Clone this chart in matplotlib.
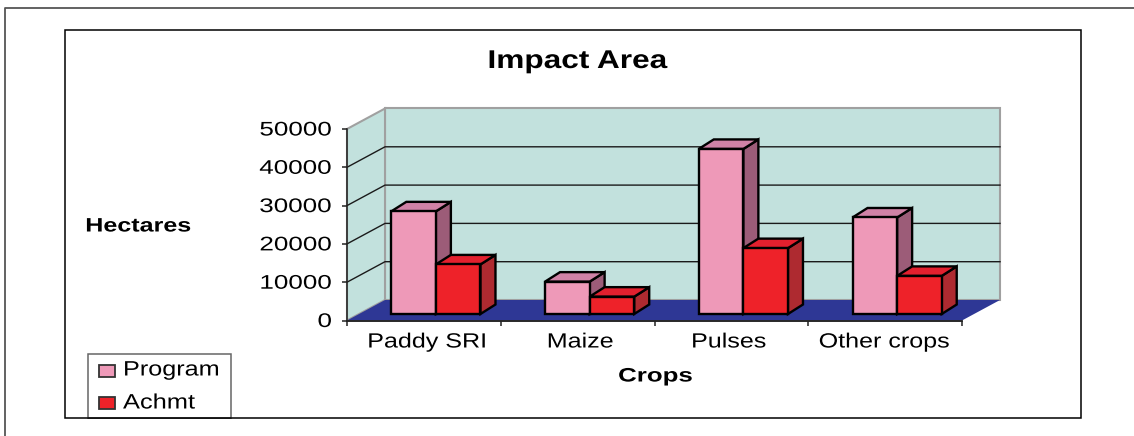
import matplotlib
matplotlib.use("Agg")
import matplotlib.pyplot as plt
from matplotlib.patches import Polygon, Rectangle
from matplotlib.patheffects import AbstractPathEffect
from matplotlib.transforms import Affine2D

categories = ["Paddy SRI", "Maize", "Pulses", "Other crops"]
program = [26800, 8450, 43100, 25200]
achmt = [12950, 4530, 17200, 9950]
series_names = ["Program", "Achmt"]
y_ticks = [0, 10000, 20000, 30000, 40000, 50000]

W, H = 1134, 436
plt.rcParams["font.family"] = ["Liberation Sans", "DejaVu Sans"]
fig = plt.figure(figsize=(W / 100, H / 100), dpi=100, facecolor="white")


class Stretch(AbstractPathEffect):
    """Widen real text horizontally about a pixel column (reference text is stretched)."""

    def __init__(self, sx, cx, dy=0):
        super().__init__()
        self.sx, self.cx, self.dy = sx, cx, dy

    def draw_path(self, renderer, gc, tpath, affine, rgbFace=None):
        t = Affine2D().translate(-self.cx, self.dy).scale(self.sx, 1).translate(self.cx, 0)
        renderer.draw_path(gc, tpath, affine + t, rgbFace)


# frames in pixel space
bg = fig.add_axes([0, 0, 1, 1])
bg.set_xlim(0, W)
bg.set_ylim(H, 0)
bg.axis("off")
bg.plot([5, 5, W], [H, 8, 8], color="#555555", lw=1.3)
bg.add_patch(Rectangle((65, 30.5), 1016, 387.5, fc="white", ec="black", lw=1.1))


def stext(x, y, s, size, sx, ha="center", weight="normal", z=6):
    t = bg.text(x, y, s, ha=ha, va="center", fontsize=size, fontweight=weight, zorder=z)
    t.set_path_effects([Stretch(sx, x)])
    return t


# front plane of the 3D box
x0, x1, ytop, ybot = 347, 962, 129, 320.5
ax = fig.add_axes([x0 / W, 1 - ybot / H, (x1 - x0) / W, (ybot - ytop) / H])
ax.set_xlim(0, 4)
ax.set_ylim(0, 50000)
ax.patch.set_alpha(0)
for s in ["top", "right"]:
    ax.spines[s].set_visible(False)
for s in ["left", "bottom"]:
    ax.spines[s].set_color("#222222")
    ax.spines[s].set_linewidth(1.1)

px_x = 4 / (x1 - x0)
px_y = 50000 / (ybot - ytop)
DX, DY = 38 * px_x, 20.5 * px_y      # box depth
OX, OY = 12 * px_x, 6.5 * px_y       # bar offset from front plane
BDX, BDY = 15 * px_x, 9.5 * px_y     # bar depth
BW = 44.6 * px_x

# walls and floor
wall = "#C2E1DD"
ax.add_patch(Polygon([(DX, DY), (4 + DX, DY), (4 + DX, 50000 + DY), (DX, 50000 + DY)],
                     fc=wall, ec="#A0A0A0", lw=1.5, clip_on=False, zorder=1))
ax.add_patch(Polygon([(0, 0), (DX, DY), (DX, 50000 + DY), (0, 50000)],
                     fc=wall, ec="#A0A0A0", lw=1.5, clip_on=False, zorder=1))
ax.add_patch(Polygon([(0, 0), (4, 0), (4 + DX, DY), (DX, DY)],
                     fc="#2E3795", ec="none", clip_on=False, zorder=2))
ax.plot([0, 4], [0, 0], color="#222222", lw=1.1, clip_on=False, zorder=2.5)

# gridlines on back and side walls
for v in y_ticks[1:-1]:
    ax.plot([0, DX, 4 + DX], [v, v + DY, v + DY], color="#1a1a1a", lw=1.0,
            clip_on=False, zorder=1.5)


def bar3d(x, v, front, top, side, z):
    b = OY
    kw = dict(ec="black", lw=1.7, joinstyle="miter", clip_on=False, zorder=z)
    ax.add_patch(Polygon([(x + BW, b), (x + BW + BDX, b + BDY), (x + BW + BDX, b + v + BDY), (x + BW, b + v)],
                         fc=side, **kw))
    ax.add_patch(Polygon([(x, b + v), (x + BW, b + v), (x + BW + BDX, b + v + BDY), (x + BDX, b + v + BDY)],
                         fc=top, **kw))
    ax.add_patch(Polygon([(x, b), (x + BW, b), (x + BW, b + v), (x, b + v)], fc=front, **kw))


for i in range(len(categories)):
    c = i + 0.5 + OX
    bar3d(c - BW, program[i], "#EE99B8", "#D082A6", "#9C5C78", 3 + i)
    bar3d(c, achmt[i], "#EE2229", "#E2202E", "#AE2A30", 3.5 + i)

ax.set_yticks(y_ticks)
ax.set_yticklabels([str(v) for v in y_ticks], fontsize=14.2, color="black")
ax.set_xticks(range(5))
ax.set_xticklabels([])
ax.tick_params(axis="both", length=3.6, width=1.1, color="#222222")
ax.tick_params(axis="y", pad=7.2)
for lab in ax.get_yticklabels():
    lab.set_path_effects([Stretch(1.32, 332, 1)])

# category labels: stretched Arial-like text at the reference's centres
cat_centres = [427, 580, 728.5, 884]
for name, cx in zip(categories, cat_centres):
    stext(cx, 342, name, 14.8, 1.22)

stext(577.5, 61, "Impact Area", 18.5, 1.23, weight="bold")
stext(138.3, 227, "Hectares", 14, 1.29, weight="bold")
stext(655.5, 377, "Crops", 14, 1.33, weight="bold")

# legend
bg.add_patch(Rectangle((88, 354), 143, 64, fc="white", ec="#666666", lw=1.1, zorder=5))
bg.plot([88, 231], [418, 418], color="black", lw=1.1, zorder=5.5)
bg.add_patch(Rectangle((99, 365), 16, 12, fc="#EE99B8", ec="#333333", lw=1.3, zorder=6))
bg.add_patch(Rectangle((99, 397), 16, 12, fc="#EE2229", ec="#333333", lw=1.3, zorder=6))
stext(123, 370, series_names[0], 15, 1.21, ha="left")
stext(123, 403, series_names[1], 15, 1.22, ha="left")

fig.savefig("out.png", dpi=100, facecolor="white")
